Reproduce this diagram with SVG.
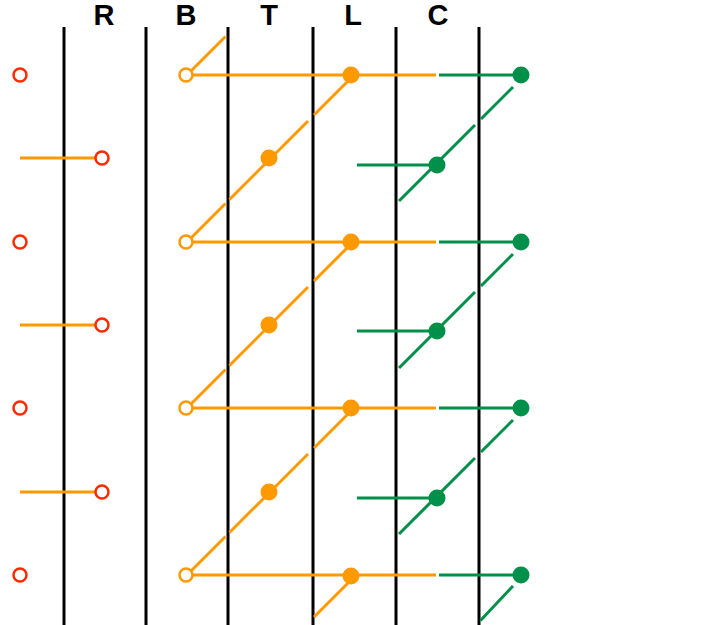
<svg xmlns="http://www.w3.org/2000/svg" width="702" height="625" viewBox="0 0 702 625">
<style>
.col{stroke:#000;stroke-width:3;fill:none}
.lbl{font-family:"Liberation Sans",Arial,sans-serif;font-weight:bold;font-size:29px;text-anchor:middle;fill:#000}
.o{stroke:#ff9900;stroke-width:3;fill:none}
.g{stroke:#00904a;stroke-width:3;fill:none}
.red{fill:#fff;stroke:#ff2a00;stroke-width:2.5}
.ob{fill:#fff;stroke:#ff9900;stroke-width:2.5}
.of{fill:#ff9900}
.gf{fill:#00904a}
</style>
<rect width="702" height="625" fill="#fff"/>
<g id="columns">
<line class="col" x1="64" y1="27" x2="64" y2="625"/>
<line class="col" x1="146" y1="27" x2="146" y2="625"/>
<line class="col" x1="228" y1="27" x2="228" y2="625"/>
<line class="col" x1="313" y1="27" x2="313" y2="625"/>
<line class="col" x1="396" y1="27" x2="396" y2="625"/>
<line class="col" x1="479" y1="27" x2="479" y2="625"/>
<text class="lbl" x="104" y="25">R</text>
<text class="lbl" x="186" y="25">B</text>
<text class="lbl" x="269" y="25">T</text>
<text class="lbl" x="353" y="25">L</text>
<text class="lbl" x="438" y="25">C</text>
</g>
<g id="connectors">
<line class="o" x1="20" y1="158" x2="102" y2="158"/>
<line class="o" x1="20" y1="325" x2="102" y2="325"/>
<line class="o" x1="20" y1="492" x2="102" y2="492"/>
<line class="o" x1="186" y1="75" x2="436" y2="75"/>
<line class="g" x1="439" y1="75" x2="521" y2="75"/>
<line class="o" x1="186" y1="242" x2="436" y2="242"/>
<line class="g" x1="439" y1="242" x2="521" y2="242"/>
<line class="o" x1="186" y1="408" x2="436" y2="408"/>
<line class="g" x1="439" y1="408" x2="521" y2="408"/>
<line class="o" x1="186" y1="575" x2="436" y2="575"/>
<line class="g" x1="439" y1="575" x2="521" y2="575"/>
<line class="o" x1="186" y1="76" x2="225.5" y2="36.5"/>
<line class="o" x1="186" y1="243" x2="225.5" y2="203.5"/>
<line class="o" x1="229.5" y1="199.5" x2="308" y2="121"/>
<line class="o" x1="314" y1="115" x2="351" y2="78"/>
<line class="o" x1="186" y1="409" x2="225.5" y2="369.5"/>
<line class="o" x1="229.5" y1="365.5" x2="308" y2="287"/>
<line class="o" x1="314" y1="281" x2="351" y2="244"/>
<line class="o" x1="186" y1="576" x2="225.5" y2="536.5"/>
<line class="o" x1="229.5" y1="532.5" x2="308" y2="454"/>
<line class="o" x1="314" y1="448" x2="351" y2="411"/>
<line class="o" x1="314" y1="617" x2="351" y2="580"/>
<line class="g" x1="357" y1="165" x2="437" y2="165"/>
<line class="g" x1="357" y1="331" x2="437" y2="331"/>
<line class="g" x1="357" y1="498" x2="437" y2="498"/>
<line class="g" x1="513" y1="87" x2="481" y2="119"/>
<line class="g" x1="475" y1="125" x2="399" y2="201"/>
<line class="g" x1="513" y1="254" x2="481" y2="286"/>
<line class="g" x1="475" y1="292" x2="399" y2="368"/>
<line class="g" x1="513" y1="420" x2="481" y2="452"/>
<line class="g" x1="475" y1="458" x2="399" y2="534"/>
<line class="g" x1="513" y1="586" x2="480.5" y2="620.5"/>
</g>
<g id="r-left-1"><circle class="red" cx="20" cy="75" r="6.5"/></g>
<g id="r-left-2"><circle class="red" cx="20" cy="242" r="6.5"/></g>
<g id="r-left-3"><circle class="red" cx="20" cy="408" r="6.5"/></g>
<g id="r-left-4"><circle class="red" cx="20" cy="575" r="6.5"/></g>
<g id="r-1"><circle class="red" cx="102" cy="158" r="6.5"/></g>
<g id="r-2"><circle class="red" cx="102" cy="325" r="6.5"/></g>
<g id="r-3"><circle class="red" cx="102" cy="492" r="6.5"/></g>
<g id="b-1"><circle class="ob" cx="186" cy="75" r="6.5"/></g>
<g id="b-2"><circle class="ob" cx="186" cy="242" r="6.5"/></g>
<g id="b-3"><circle class="ob" cx="186" cy="408" r="6.5"/></g>
<g id="b-4"><circle class="ob" cx="186" cy="575" r="6.5"/></g>
<g id="t-1"><circle class="of" cx="269" cy="158" r="8.5"/></g>
<g id="t-2"><circle class="of" cx="269" cy="325" r="8.5"/></g>
<g id="t-3"><circle class="of" cx="269" cy="492" r="8.5"/></g>
<g id="l-1"><circle class="of" cx="351" cy="75" r="8.5"/></g>
<g id="l-2"><circle class="of" cx="351" cy="242" r="8.5"/></g>
<g id="l-3"><circle class="of" cx="351" cy="408" r="8.5"/></g>
<g id="l-4"><circle class="of" cx="351" cy="576" r="8.5"/></g>
<g id="c-1"><circle class="gf" cx="437" cy="165" r="8.5"/></g>
<g id="c-2"><circle class="gf" cx="437" cy="331" r="8.5"/></g>
<g id="c-3"><circle class="gf" cx="437" cy="498" r="8.5"/></g>
<g id="g-1"><circle class="gf" cx="521" cy="75" r="8.5"/></g>
<g id="g-2"><circle class="gf" cx="521" cy="242" r="8.5"/></g>
<g id="g-3"><circle class="gf" cx="521" cy="408" r="8.5"/></g>
<g id="g-4"><circle class="gf" cx="521" cy="575" r="8.5"/></g>
</svg>
